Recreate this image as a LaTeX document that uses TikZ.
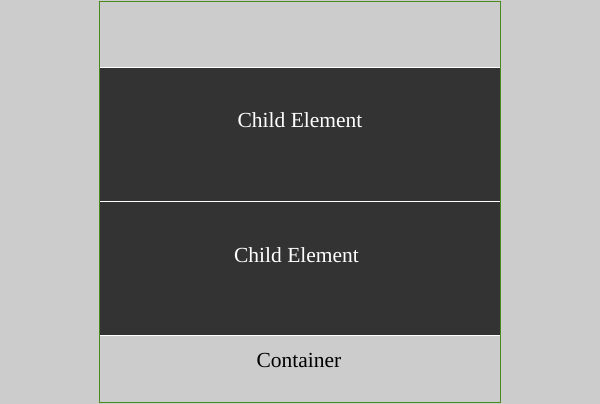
\documentclass[tikz,border=0pt]{standalone}
\usepackage{fontspec}
\setmainfont{Liberation Serif}
\definecolor{pagegray}{HTML}{CCCCCC}
\definecolor{childdark}{HTML}{333333}
\definecolor{boxgreen}{HTML}{4A8A1E}
\begin{document}
\begin{tikzpicture}[x=1pt, y=-1pt,
  boxtext/.style={anchor=base, inner sep=0pt, font=\fontsize{21.5}{26}\selectfont}]

 \useasboundingbox (0,0) rectangle (600,404);
 \fill[pagegray] (0,0) rectangle (600,404);

 %children
 \foreach \dy/\dx/\name in {68/300/childA, 202/296.5/childB} {
        \fill[childdark] (100,\dy) rectangle (500,\dy+133);
        \draw[white, line width=1pt] (100,\dy-0.5) -- (500,\dy-0.5);
        \node[boxtext, white] (\name) at (\dx, \dy+60) {Child Element};
 }
 \draw[white, line width=1pt] (100,335.5) -- (500,335.5);

 %container
 \node[boxtext, black] (container) at (299, 367) {Container};
 \draw[boxgreen, line width=1pt] (99.5,1.5) rectangle (500.5,402.5);

\end{tikzpicture}
\end{document}
